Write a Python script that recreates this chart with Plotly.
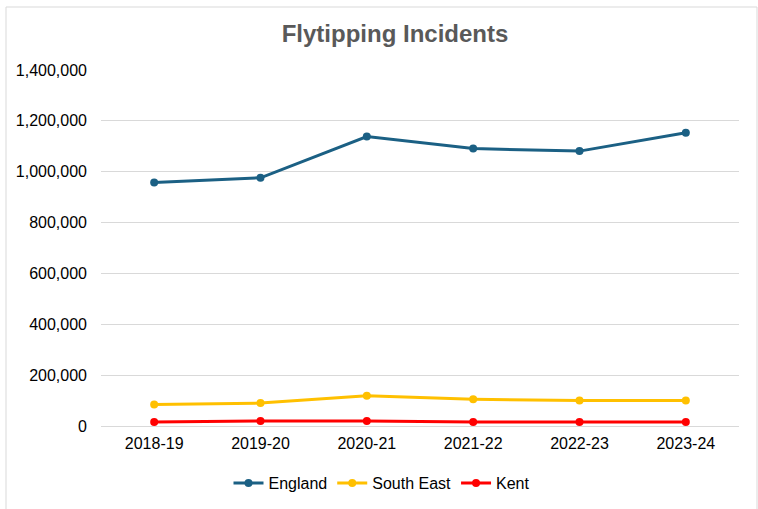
import plotly.graph_objects as go

years = ["2018-19", "2019-20", "2020-21", "2021-22", "2022-23", "2023-24"]
england = [958000, 976000, 1138000, 1091000, 1081000, 1153000]
south_east = [85000, 90000, 119000, 105000, 100000, 100000]
kent = [16000, 20000, 20000, 16000, 16000, 16000]

y_ticks = [0, 200000, 400000, 600000, 800000, 1000000, 1200000, 1400000]

series = [
    ("England", england, "#1B6084"),
    ("South East", south_east, "#FFC000"),
    ("Kent", kent, "#FF0000"),
]

fig = go.Figure()
for name, vals, col in series:
    fig.add_trace(go.Scatter(
        x=years, y=vals, name=name, mode="lines+markers",
        line=dict(color=col, width=3),
        marker=dict(color=col, size=8),
    ))

fig.update_layout(
    width=758, height=509,
    margin=dict(l=101, r=19, t=70, b=83),
    paper_bgcolor="white", plot_bgcolor="white",
    font=dict(family="Liberation Sans, Arial", size=16, color="#000000"),
    title=dict(text="<b>Flytipping Incidents</b>", x=395/758, xanchor="center",
               y=1 - 34/509, yanchor="middle", xref="container", yref="container",
               font=dict(size=24, color="#595959")),
    legend=dict(orientation="h", x=382/758, xanchor="center", xref="container",
                y=1 - 483/509, yanchor="middle", yref="container",
                font=dict(size=16), itemwidth=30, tracegroupgap=0),
    showlegend=True,
    xaxis=dict(type="category", range=[-0.5, 5.5], showgrid=False, showline=False,
               ticks="", ticklabelstandoff=6, tickfont=dict(size=16)),
    yaxis=dict(range=[0, 1400000], tickvals=y_ticks, tickformat=",d",
               showgrid=True, gridcolor="#D9D9D9", gridwidth=1,
               zeroline=True, zerolinecolor="#D9D9D9", zerolinewidth=1,
               showline=False, ticks="", ticklabelstandoff=13, tickfont=dict(size=16)),
    shapes=[dict(type="rect", xref="paper", yref="paper",
                 x0=(6 - 101) / 638, x1=(757 - 101) / 638,
                 y0=-0.4, y1=(426 - 7) / 356,
                 line=dict(color="#D9D9D9", width=1), fillcolor="rgba(0,0,0,0)",
                 layer="below")],
)

fig.write_html("out.html", config={"displayModeBar": False},
               post_script="document.body.style.margin='0';document.body.style.overflow='hidden';")
